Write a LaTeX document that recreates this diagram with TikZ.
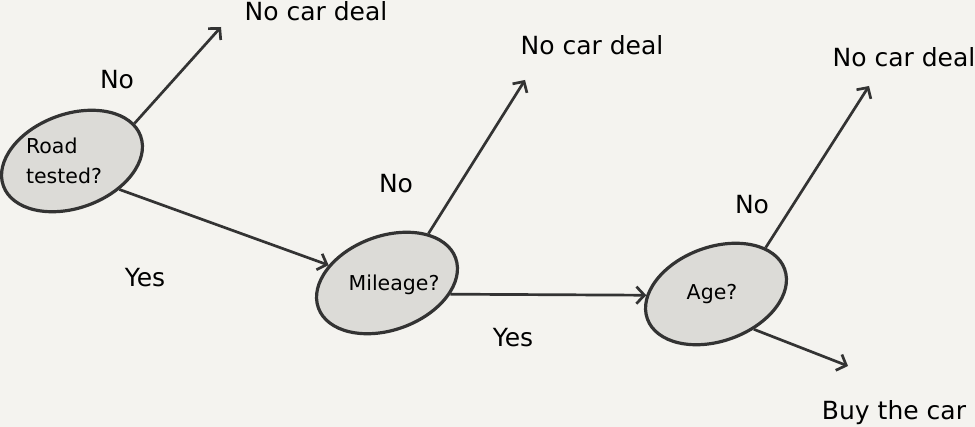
\documentclass[tikz,border=0pt]{standalone}
\usepackage{fontspec}
\setmainfont{DejaVu Sans}
\usetikzlibrary{shapes.geometric,arrows.meta}
\definecolor{paper}{HTML}{F4F3EF}
\definecolor{ink}{HTML}{333333}
\definecolor{shade}{HTML}{DCDBD7}
\begin{document}
\begin{tikzpicture}
      [x=1pt,y=-1pt,
       question/.style={ellipse,draw=ink,fill=shade,line width=3.2pt,
         minimum width=146pt,minimum height=94pt,inner sep=0pt,rotate=20},
       qtext/.style={font=\fontsize{20.5}{30}\selectfont,align=left},
       answer/.style={font=\fontsize{25}{30}\selectfont,anchor=base},
       branch/.style={draw=ink,line width=2.7pt,
         -{Straight Barb[length=8pt,width=17pt]}}]
      \useasboundingbox (0,0) rectangle (975,427);
      \fill[paper] (0,0) rectangle (975,427);
      \node[question] (road) at (72,161) {};
      \node[qtext] (roadq) at (64,161) {Road\\tested?};
      \node[question] (mileage) at (387,283) {};
      \node[qtext,anchor=base] (mileageq) at (394,291) {Mileage?};
      \node[question] (age) at (716,294) {};
      \node[qtext,anchor=base] (ageq) at (712,300) {Age?};
      \node[answer] (deal1) at (316,21) {No car deal};
      \node[answer] (deal2) at (592,55) {No car deal};
      \node[answer] (deal3) at (904,67) {No car deal};
      \node[answer] (buy) at (894,420) {Buy the car};
      \coordinate (tip1) at (221,27);
      \coordinate (tip2) at (525,80);
      \coordinate (tip3) at (869,86);
      \coordinate (tip4) at (848,366);
      \draw[branch] (road.11) -- (tip1);
      \draw[branch] (road.-51) -- (mileage.143);
      \draw[branch] (mileage.30) -- (tip2);
      \draw[branch] (mileage.-30) -- (age.161);
      \draw[branch] (age.23) -- (tip3);
      \draw[branch] (age.-63) -- (tip4);
      \node[answer] (no1) at (117,89) {No};
      \node[answer] (yes1) at (145,287) {Yes};
      \node[answer] (no2) at (396,193) {No};
      \node[answer] (yes2) at (513,347) {Yes};
      \node[answer] (no3) at (752,214) {No};
    \end{tikzpicture}
\end{document}
